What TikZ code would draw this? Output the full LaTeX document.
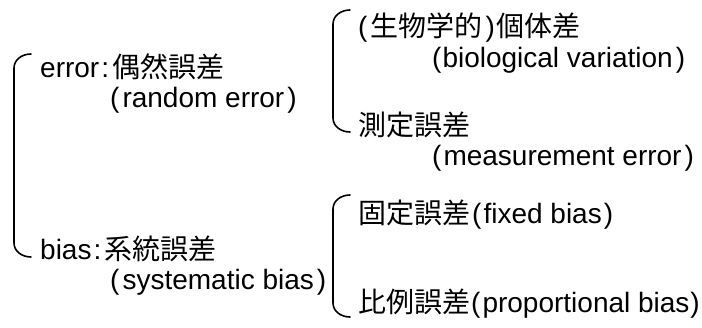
\documentclass[tikz,border=0pt]{standalone}
\usepackage{fontspec}
\setmainfont{Liberation Sans}
\newfontfamily\jp{Noto Sans CJK JP}
\begin{document}
\begin{tikzpicture}[x=1pt,y=-1pt,
  txt/.style={anchor=base west, inner sep=0pt, font=\fontsize{28}{28}\selectfont},
  brk/.style={line width=1.6pt, line cap=round}]
\useasboundingbox (0,0) rectangle (702,327);
% level 1
\node[txt] (err)  at (40,77)  {error\hspace{2pt}:\hspace{3pt}{\jp 偶然誤差}};
\node[txt] (rnd)  at (110,107) {(\hspace{3pt}random error\hspace{3pt})};
\node[txt] (bias) at (40,259) {bias\hspace{2pt}:\hspace{3pt}{\jp 系統誤差}};
\node[txt] (sys)  at (110,289) {(\hspace{3pt}systematic bias\hspace{3pt})};
% level 2, error branch
\node[txt] (bio1) at (358,36)  {(\hspace{3pt}{\jp 生物学的}\hspace{3pt})\hspace{2pt}{\jp 個体差}};
\node[txt] (bio2) at (432,67)  {(\hspace{1pt}biological variation\hspace{3pt})};
\node[txt] (ms1)  at (358,135) {{\jp 測定誤差}};
\node[txt] (ms2)  at (432,165) {(\hspace{2pt}measurement error\hspace{3pt})};
% level 2, bias branch
\node[txt] (fix)  at (358,223) {{\jp 固定誤差}\hspace{2pt}(\hspace{2pt}fixed bias\hspace{2pt})};
\node[txt] (prop) at (358,312) {{\jp 比例誤差}\hspace{1pt}(\hspace{2pt}proportional bias\hspace{1pt})};
% brackets
\coordinate (b1t) at (31,54);   \coordinate (b1b) at (31,257);
\coordinate (b2t) at (350,10);  \coordinate (b2b) at (350,132);
\coordinate (b3t) at (350,195); \coordinate (b3b) at (350,317);
\draw[brk] (b1t) to[out=180,in=90] (14,68) -- (14,243) to[out=-90,in=180] (b1b);
\draw[brk] (b2t) to[out=180,in=90] (333,24) -- (333,118) to[out=-90,in=180] (b2b);
\draw[brk] (b3t) to[out=180,in=90] (333,209) -- (333,303) to[out=-90,in=180] (b3b);
\end{tikzpicture}
\end{document}
